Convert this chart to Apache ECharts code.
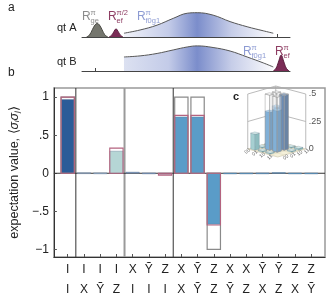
<!DOCTYPE html>
<html><head><meta charset="utf-8">
<script src="https://cdn.jsdelivr.net/npm/echarts@6/dist/echarts.min.js"></script>
<style>html,body{margin:0;padding:0;background:#fff}#c{width:328px;height:300px}</style>
</head><body><div id="c"></div>
<script>
// ---------- panel b: two-qubit correlations ----------
const row1 = ['I','I','I','I','X','Ỹ','Z','X','Ỹ','Z','X','X','Ỹ','Ỹ','Z','Z'];
const row2 = ['I','X','Ỹ','Z','I','I','I','X','Ỹ','Z','Ỹ','Z','X','Z','X','Ỹ'];
const idealValues    = [1, 0, 0, 0, 0, 0, 0, 1, 1, -1, 0, 0, 0, 0, 0, 0];
const expectedValues = [1, 0, 0, 0.33, 0, 0, -0.025, 0.76, 0.76, -0.68, 0, 0, 0, 0, 0, 0];
const measuredValues = [0.97, 0.008, 0.006, 0.29, 0.015, 0.005, -0.01, 0.74, 0.74, -0.67, 0.004, 0.004, 0.005, 0.01, 0.004, 0.004];
const yTicks = [-1, -0.5, 0, 0.5, 1];
const groupDividers = [0.5, 3.5, 6.5];

// ---------- panel a: pulse sequences ----------
const timeTicks = [0, 1, 2, 3, 4, 5, 6];
const geX = [-0.28, -0.18, -0.09, 0.0, 0.07, 0.14, 0.23, 0.32, 0.42];
const geY = [0, 0.08, 0.27, 0.45, 0.5, 0.45, 0.27, 0.08, 0];
const efHalfX = [0.46, 0.54, 0.61, 0.69, 0.77, 0.84, 0.92];
const efHalfY = [0, 0.06, 0.18, 0.30, 0.18, 0.06, 0];
const f0g1X  = [0.95, 1.48, 2.04, 2.57, 3.03, 3.36, 3.88, 4.44, 5.0, 5.53, 5.86];
const f0g1AY = [0.14, 0.26, 0.44, 0.69, 0.88, 0.90, 0.81, 0.57, 0.38, 0.23, 0.14];
const f0g1BY = [0.52, 0.56, 0.65, 0.78, 0.89, 0.93, 0.87, 0.74, 0.52, 0.30, 0.15];
const efBX = [5.86, 5.95, 6.03, 6.12, 6.21, 6.29, 6.38];
const efBY = [0, 0.10, 0.33, 0.59, 0.33, 0.10, 0];

// ---------- panel c: density matrix ----------
const basisLabels = ['00', '01', '10', '11'];
const rhoMeasured = [
  [0.145, 0.01, 0.01, 0.0],
  [0.01, 0.345, 0.375, 0.0],
  [0.01, 0.375, 0.495, 0.01],
  [0.0, 0.0, 0.01, 0.015]
];
const rhoIdeal = [
  [0, 0, 0, 0],
  [0, 0.5, 0.5, 0],
  [0, 0.5, 0.5, 0],
  [0, 0, 0, 0]
];
const zTicks = [0, 0.25, 0.5];
const zTickLabels = ['0', '.25', '.5'];

const FONT = 'Liberation Sans, Arial, sans-serif';
const chart = echarts.init(document.getElementById('c'), null, {renderer: 'canvas'});
const BW = 0.82;
const Y_MIN = -1.1, Y_MAX = 1.12;

function measuredColor(i) {
  if (i === 0) return '#2b5c98';
  if (i === 3) return '#b5d6d5';
  if (i < 3) return '#a9c4dc';
  if (i < 7) return i === 6 ? '#a85a78' : '#7f9fc3';
  return '#5a9cc8';
}
function barLayer(values, styleFn, z) {
  return {
    type: 'custom', xAxisIndex: 0, yAxisIndex: 0, z: z,
    encode: {x: 0, y: 1},
    data: values.map((v, i) => [i, v]),
    renderItem: (p, api) => {
      const x = api.value(0), v = api.value(1);
      if (Math.abs(v) < 0.002) return;
      const a = api.coord([x - BW / 2, 0]), b = api.coord([x + BW / 2, v]);
      return {type: 'rect',
        shape: {x: a[0], y: Math.min(a[1], b[1]), width: b[0] - a[0], height: Math.max(1, Math.abs(b[1] - a[1]))},
        style: styleFn(x)};
    }
  };
}

function pts(xs, ys) { return xs.map((x, i) => [x, ys[i]]); }
function grad(c0) {
  return new echarts.graphic.LinearGradient(0, 0, 1, 0, [
    {offset: 0, color: c0}, {offset: 0.3, color: '#c3cbe8'}, {offset: 0.49, color: '#7b8dcb'},
    {offset: 0.72, color: '#c6cde8'}, {offset: 1, color: '#fbfbfd'}]);
}
function lineSer(data, xi, lineColor, fill, z) {
  return {type: 'line', xAxisIndex: xi, yAxisIndex: xi, data: data, smooth: 0.4, showSymbol: false,
    symbol: 'none', z: z || 2,
    lineStyle: {color: lineColor, width: 1}, areaStyle: {color: fill, opacity: 1}};
}

// 3D projection for panel c (cell-centre coordinates i,j and height z)
function proj(i, j, z) { return [25 + 7 * i + 7.5 * j, 21 + 2 * i - 2 * j + 110 * z]; }

const cellItems = [];
for (let i = 0; i < 4; i++) for (let j = 0; j < 4; j++) {
  if (rhoMeasured[i][j] > 0.003) cellItems.push([i, j, rhoMeasured[i][j], 0]);
  if (rhoIdeal[i][j] > 0) cellItems.push([i, j, rhoIdeal[i][j], 1]);
}
cellItems.sort((a, b) => ((a[1] - a[0]) - (b[1] - b[0])) || (a[3] - b[3]));

const palette = {
  dark: ['#4c78b0', '#2c5b96', '#234a7c'],
  mid: ['#86b8de', '#4b8ec6', '#3c76a8'],
  light: ['#d3e8e8', '#a6cfd1', '#8ebcbf']
};

function rLabel(x, y, sup, sub, color) {
  return [
    {type: 'text', x: x, y: y, style: {text: 'R', fill: color, font: '12px ' + FONT, textVerticalAlign: 'middle'}},
    {type: 'text', x: x + 8.5, y: y - 4, style: {text: sup, fill: color, font: '7.5px ' + FONT, textVerticalAlign: 'middle'}},
    {type: 'text', x: x + 8.5, y: y + 3.5, style: {text: sub, fill: color, font: '7.5px ' + FONT, textVerticalAlign: 'middle'}}
  ];
}
const grey = '#8c8c8c', purple = '#8e3d63', lblue = '#8d9bd3';
const dividerStyles = [{stroke: '#333', lineWidth: 1}, {stroke: '#9a9a9a', lineWidth: 2}, {stroke: '#333', lineWidth: 1}];

const option = {
  animation: false,
  textStyle: {fontFamily: FONT},
  grid: [
    {left: 49, top: 88, width: 276, height: 170, show: true, borderColor: '#999', borderWidth: 1.5, backgroundColor: '#fff'},
    {left: 82, top: 10, width: 208, height: 27},
    {left: 82, top: 44, width: 208, height: 27},
    {left: 230, top: 80, width: 90, height: 90}
  ],
  xAxis: [
    {gridIndex: 0, type: 'value', min: -0.85, max: 15.85, splitLine: {show: false},
      axisLine: {show: true, onZero: false, lineStyle: {color: '#333', width: 1}},
      axisTick: {show: true, inside: true, length: 3, customValues: row1.map((_, i) => i), lineStyle: {color: '#555'}},
      axisLabel: {show: true, customValues: row1.map((_, i) => i), margin: 3, fontSize: 12, color: '#222', lineHeight: 20,
        formatter: v => row1[v] + '\n' + row2[v]}},
    {gridIndex: 1, type: 'value', min: -0.43, max: 6.41, splitLine: {show: false},
      axisLine: {show: true, onZero: false, lineStyle: {color: '#444'}},
      axisTick: {show: true, inside: true, length: 3, customValues: timeTicks, lineStyle: {color: '#444'}},
      axisLabel: {show: false}},
    {gridIndex: 2, type: 'value', min: -0.43, max: 6.41, splitLine: {show: false},
      axisLine: {show: true, onZero: false, lineStyle: {color: '#444'}},
      axisTick: {show: true, inside: true, length: 3, customValues: timeTicks, lineStyle: {color: '#444'}},
      axisLabel: {show: false}},
    {gridIndex: 3, type: 'value', min: 0, max: 90, show: false}
  ],
  yAxis: [
    {gridIndex: 0, type: 'value', min: Y_MIN, max: Y_MAX, splitLine: {show: false},
      axisLine: {show: true, onZero: false, lineStyle: {color: '#333', width: 1}},
      axisTick: {show: true, inside: true, length: 3, customValues: yTicks, lineStyle: {color: '#555'}},
      axisLabel: {customValues: yTicks, margin: 5, fontSize: 12, color: '#222',
        formatter: v => v === 0 ? '0' : (v < 0 ? '−' : '') + String(Math.abs(v)).replace(/^0/, '')},
      name: '{t|expectation value, ⟨}{s|σ}{b|i}{s|σ}{b|j}{t|⟩}', nameLocation: 'middle', nameGap: 31,
      nameTextStyle: {rich: {
        t: {fontSize: 12.5, color: '#222', fontFamily: FONT},
        s: {fontSize: 12.5, color: '#222', fontStyle: 'italic', fontFamily: FONT},
        b: {fontSize: 7, color: '#222', fontStyle: 'italic', verticalAlign: 'bottom', fontFamily: FONT}}}},
    {gridIndex: 1, type: 'value', min: 0, max: 1, show: false},
    {gridIndex: 2, type: 'value', min: 0, max: 1, show: false},
    {gridIndex: 3, type: 'value', min: 0, max: 90, show: false}
  ],
  series: [
    // group dividers
    {type: 'custom', xAxisIndex: 0, yAxisIndex: 0, z: 1, encode: {x: 0},
      data: groupDividers.map((d, k) => [d, k]),
      renderItem: (p, api) => {
        const x = api.value(0), k = api.value(1);
        const a = api.coord([x, Y_MIN]), b = api.coord([x, Y_MAX]);
        return {type: 'line', shape: {x1: a[0], y1: a[1], x2: b[0], y2: b[1]}, style: dividerStyles[k]};
      }},
    // zero line
    {type: 'custom', xAxisIndex: 0, yAxisIndex: 0, z: 1, encode: {x: 0, y: 1},
      data: [[-0.85, 0]],
      renderItem: (p, api) => {
        const a = api.coord([-0.85, 0]), b = api.coord([15.85, 0]);
        return {type: 'line', shape: {x1: a[0], y1: a[1], x2: b[0], y2: b[1]}, style: {stroke: '#333', lineWidth: 1}};
      }},
    barLayer(measuredValues, i => ({fill: measuredColor(i), stroke: 'rgba(90,110,140,0.6)', lineWidth: 0.6}), 3),
    barLayer(idealValues, () => ({fill: 'none', stroke: '#8a8a8a', lineWidth: 1.2}), 4),
    barLayer(expectedValues, () => ({fill: 'none', stroke: '#b4637f', lineWidth: 1.1}), 5),

    // panel a
    lineSer(pts(geX, geY), 1, '#4a4a44', '#75766e'),
    lineSer(pts(efHalfX, efHalfY), 1, '#5a1e3e', '#7b2c56'),
    lineSer(pts(f0g1X, f0g1AY), 1, '#555', grad('#f2f3f9')),
    lineSer(pts(f0g1X, f0g1BY), 2, '#555', grad('#dce1f1')),
    lineSer(pts(efBX, efBY), 2, '#5a1e3e', '#7b2c56', 3),

    // panel c: walls & floor
    {type: 'custom', xAxisIndex: 3, yAxisIndex: 3, z: 10, data: [[0]], encode: {x: 0},
      renderItem: (p, api) => {
        const P = (i, j, z) => api.coord(proj(i, j, z));
        const ch = [];
        ch.push({type: 'polygon', shape: {points: [P(-0.5, -0.5, 0), P(3.5, -0.5, 0), P(3.5, 3.5, 0), P(-0.5, 3.5, 0)]},
          style: {fill: '#f4f0da', stroke: '#c9c3a8', lineWidth: 0.6}});
        for (let k = 0.5; k < 3.5; k += 1) {
          ch.push({type: 'line', shape: {x1: P(k, -0.5, 0)[0], y1: P(k, -0.5, 0)[1], x2: P(k, 3.5, 0)[0], y2: P(k, 3.5, 0)[1]}, style: {stroke: '#ddd6bb', lineWidth: 0.5}});
          ch.push({type: 'line', shape: {x1: P(-0.5, k, 0)[0], y1: P(-0.5, k, 0)[1], x2: P(3.5, k, 0)[0], y2: P(3.5, k, 0)[1]}, style: {stroke: '#ddd6bb', lineWidth: 0.5}});
        }
        const wall = {stroke: '#aaa', lineWidth: 0.8};
        [[-0.5, -0.5], [3.5, -0.5], [3.5, 3.5]].forEach(c => {
          const a = P(c[0], c[1], 0), b = P(c[0], c[1], 0.5);
          ch.push({type: 'line', shape: {x1: a[0], y1: a[1], x2: b[0], y2: b[1]}, style: wall});
        });
        [0.25, 0.5].forEach(z => {
          ch.push({type: 'polyline', shape: {points: [P(-0.5, -0.5, z), P(3.5, -0.5, z), P(3.5, 3.5, z)]}, style: Object.assign({fill: 'none'}, wall)});
        });
        zTicks.forEach((z, k) => {
          const q = P(3.5, 3.5, z);
          ch.push({type: 'text', x: q[0] + 3, y: q[1], style: {text: zTickLabels[k], fill: '#555', font: '9px ' + FONT, textVerticalAlign: 'middle'}});
        });
        basisLabels.forEach((l, k) => {
          const a = P(-1.1, k, 0), b = P(k, 4.1, 0);
          ch.push({type: 'text', x: a[0], y: a[1], rotation: 0.7, style: {text: l, fill: '#666', font: '5px ' + FONT, textAlign: 'center', textVerticalAlign: 'middle'}});
          ch.push({type: 'text', x: b[0], y: b[1], rotation: 0.7, style: {text: l, fill: '#666', font: '5px ' + FONT, textAlign: 'center', textVerticalAlign: 'middle'}});
        });
        return {type: 'group', children: ch};
      }},
    // panel c: bars
    {type: 'custom', xAxisIndex: 3, yAxisIndex: 3, z: 11, data: cellItems, encode: {x: 0, y: 1},
      renderItem: (p, api) => {
        const i = api.value(0), j = api.value(1), z = api.value(2), kind = api.value(3);
        const h = 0.3;
        const P = (a, b, c) => api.coord(proj(a, b, c));
        const left = [P(i - h, j - h, 0), P(i - h, j + h, 0), P(i - h, j + h, z), P(i - h, j - h, z)];
        const right = [P(i - h, j + h, 0), P(i + h, j + h, 0), P(i + h, j + h, z), P(i - h, j + h, z)];
        const top = [P(i - h, j - h, z), P(i + h, j - h, z), P(i + h, j + h, z), P(i - h, j + h, z)];
        let cols, st;
        if (kind === 1) {
          cols = ['rgba(255,255,255,0.35)', 'rgba(255,255,255,0.3)', 'rgba(240,240,240,0.35)'];
          st = {stroke: 'rgba(150,150,150,0.8)', lineWidth: 0.6};
        } else {
          cols = z > 0.45 ? palette.dark : (z > 0.2 ? palette.mid : palette.light);
          st = {stroke: 'rgba(40,60,90,0.35)', lineWidth: 0.4};
        }
        return {type: 'group', children: [
          {type: 'polygon', shape: {points: left}, style: Object.assign({fill: cols[1]}, st)},
          {type: 'polygon', shape: {points: right}, style: Object.assign({fill: cols[2]}, st)},
          {type: 'polygon', shape: {points: top}, style: Object.assign({fill: cols[0]}, st)}
        ]};
      }}
  ],
  graphic: [].concat(
    [
      {type: 'text', x: 8, y: 8, style: {text: 'a', fill: '#222', font: '12px ' + FONT, textVerticalAlign: 'middle'}},
      {type: 'text', x: 8, y: 73, style: {text: 'b', fill: '#222', font: '12px ' + FONT, textVerticalAlign: 'middle'}},
      {type: 'text', x: 233, y: 97, z: 20, style: {text: 'c', fill: '#222', font: 'bold 11px ' + FONT, textVerticalAlign: 'middle'}},
      {type: 'text', x: 57, y: 28, style: {text: 'qt A', fill: '#222', font: '11px ' + FONT, textVerticalAlign: 'middle'}},
      {type: 'text', x: 57, y: 62, style: {text: 'qt B', fill: '#222', font: '11px ' + FONT, textVerticalAlign: 'middle'}}
    ],
    rLabel(82, 17, 'π', 'ge', grey),
    rLabel(108, 17, 'π/2', 'ef', purple),
    rLabel(137, 17, 'π', 'f0g1', lblue),
    rLabel(243, 52, 'π', 'f0g1', lblue),
    rLabel(275, 52, 'π', 'ef', purple)
  )
};
chart.setOption(option);
</script>
</body></html>
